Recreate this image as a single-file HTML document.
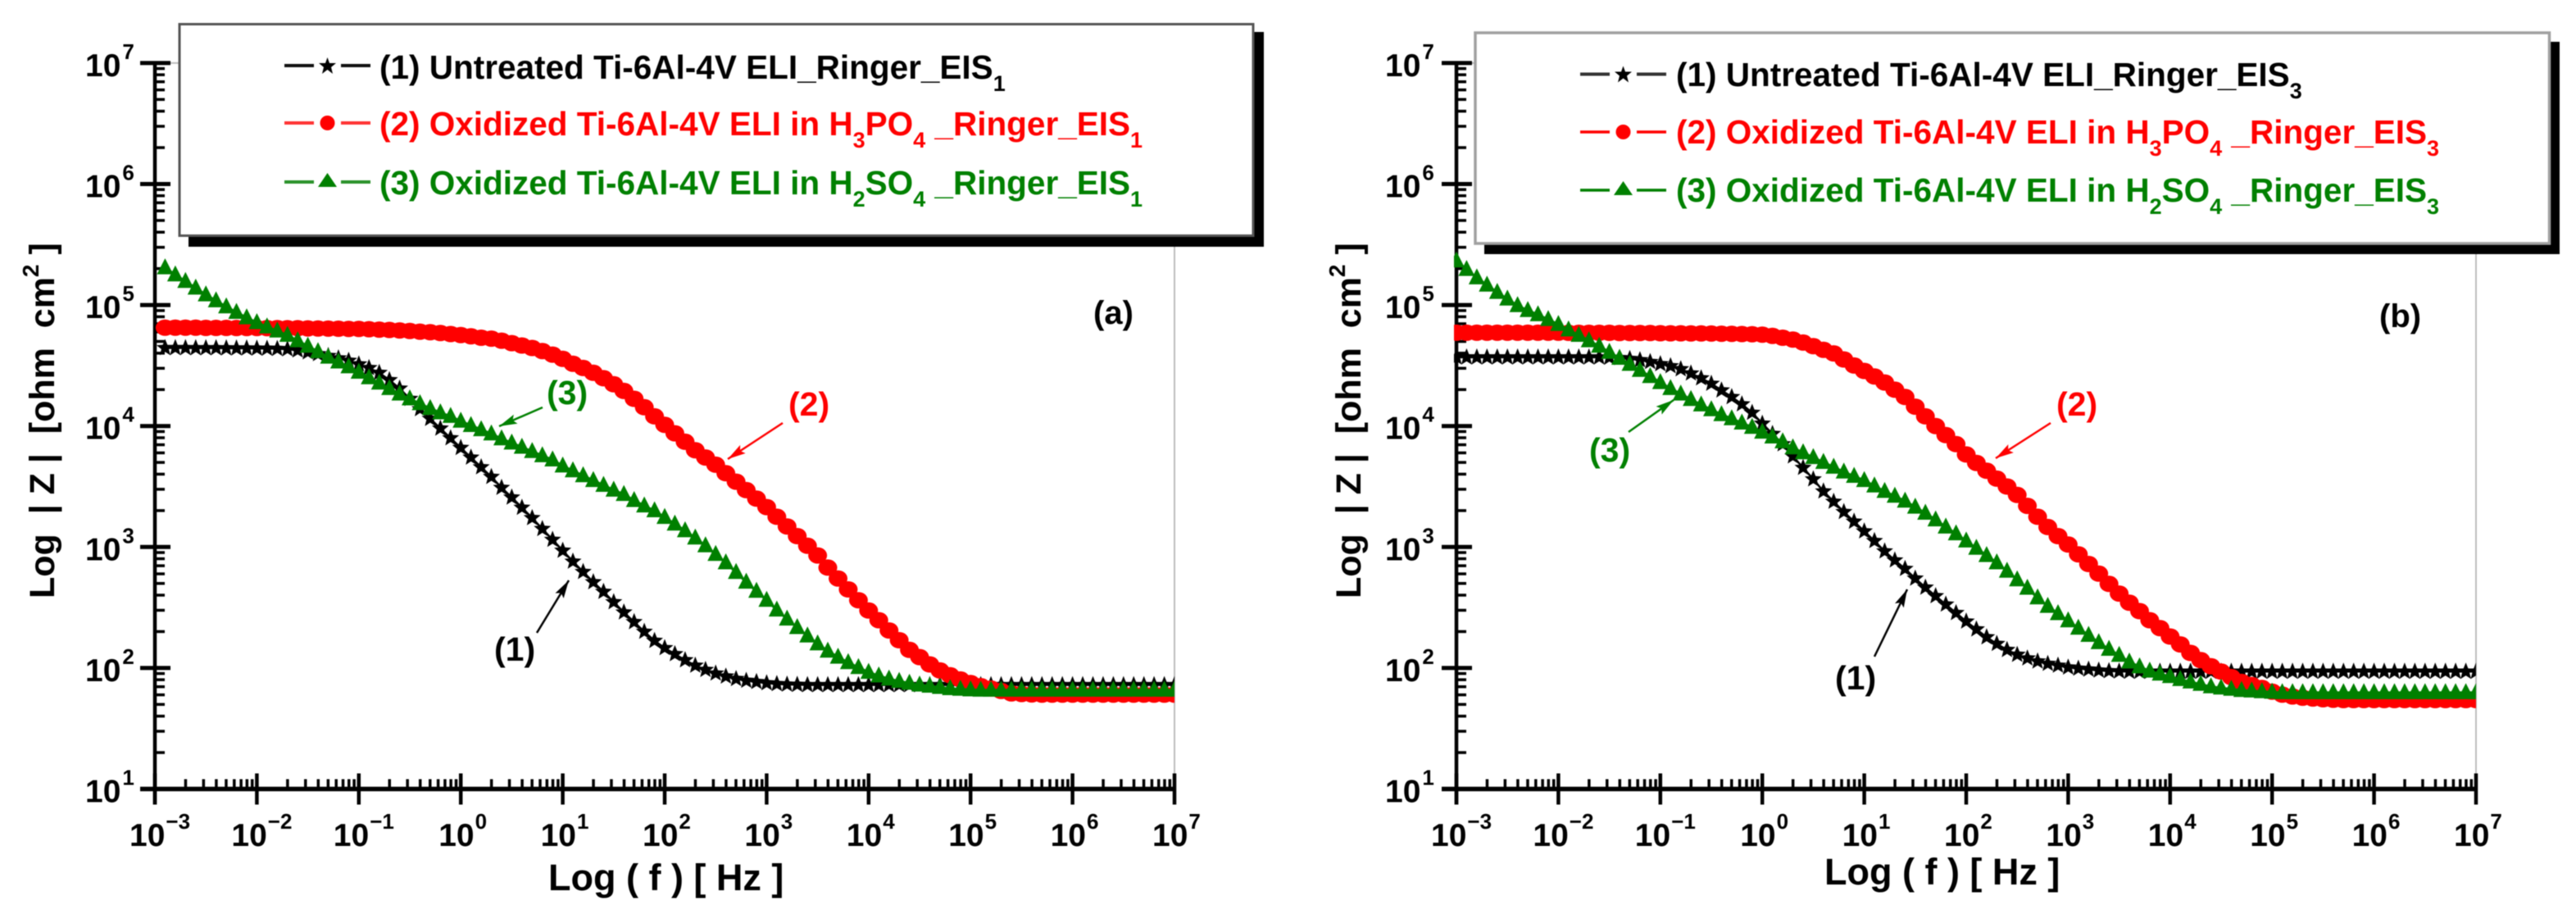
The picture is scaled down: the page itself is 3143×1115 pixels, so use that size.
<!DOCTYPE html>
<html lang="en">
<head>
<meta charset="utf-8">
<title>Bode impedance plots</title>
<style>
html,body{margin:0;padding:0;background:#fff;width:3143px;height:1115px;overflow:hidden}
svg{display:block;filter:blur(.6px)}
text{font-family:"Liberation Sans",sans-serif;font-weight:bold}
</style>
</head>
<body>
<svg id="fig" xmlns="http://www.w3.org/2000/svg" width="3143" height="1115" viewBox="0 0 3143 1115">
  <defs>
    <clipPath id="clip-a"><rect x="186" y="60" width="1247" height="905"/></clipPath>
    <clipPath id="clip-b"><rect x="1774" y="60" width="1247" height="905"/></clipPath>
    <marker id="head-k" markerUnits="userSpaceOnUse" markerWidth="24" markerHeight="14" refX="22" refY="6" orient="auto"><path d="M0 0L22 6L0 12L4 6Z" fill="#000"/></marker>
    <marker id="head-r" markerUnits="userSpaceOnUse" markerWidth="24" markerHeight="14" refX="22" refY="6" orient="auto"><path d="M0 0L22 6L0 12L4 6Z" fill="#f00"/></marker>
    <marker id="head-g" markerUnits="userSpaceOnUse" markerWidth="24" markerHeight="14" refX="22" refY="6" orient="auto"><path d="M0 0L22 6L0 12L4 6Z" fill="#008000"/></marker>
  </defs>

  <g id="panel-a"></g>
  <g id="panel-b"></g>

  <!-- panel a static furniture -->
  <g>
    <text x="1334" y="395" font-size="40" fill="#000">(a)</text>
    <text x="667" y="493" font-size="41" fill="#008000">(3)</text>
    <line x1="662" y1="497" x2="609" y2="520" stroke="#008000" stroke-width="2.5" marker-end="url(#head-g)"/>
    <text x="962" y="507" font-size="41" fill="#f00">(2)</text>
    <line x1="955" y1="516" x2="888" y2="560" stroke="#f00" stroke-width="2.5" marker-end="url(#head-r)"/>
    <text x="603" y="806" font-size="41" fill="#000">(1)</text>
    <line x1="655" y1="772" x2="694" y2="708" stroke="#000" stroke-width="2.5" marker-end="url(#head-k)"/>
    <text transform="translate(66,730) rotate(-90)" font-size="43" fill="#000" xml:space="preserve">Log  | Z |  [ohm  cm<tspan font-size="28" dy="-19">2</tspan><tspan dy="19"> ]</tspan></text>
    <text x="669" y="1086" font-size="45" fill="#000" xml:space="preserve">Log ( f ) [ Hz ]</text>
  </g>
  <g>
    <rect x="230" y="39" width="1312" height="262" fill="#000"/>
    <rect x="219" y="29.5" width="1310" height="258" fill="#fff" stroke="#555" stroke-width="3"/>
    <g>
      <path d="M347 80H383M416 80H452" stroke="#111" stroke-width="4" fill="none"/>
      <polygon points="399.5,70 402,77 410,77 404,82 406,90 399.5,85 393,90 395,82 389,77 397,77" fill="#000"/>
      <text x="463" y="96" font-size="40.5" fill="#000">(1) Untreated Ti-6Al-4V ELI_Ringer_EIS<tspan font-size="27" dy="15">1</tspan></text>
    </g>
    <g>
      <path d="M347 150H383M416 150H452" stroke="#f33" stroke-width="4" fill="none"/>
      <circle cx="399.5" cy="150" r="9" fill="#f00"/>
      <text x="463" y="165" font-size="40.5" fill="#f00">(2) Oxidized Ti-6Al-4V ELI in H<tspan font-size="27" dy="15">3</tspan><tspan dy="-15">PO</tspan><tspan font-size="27" dy="15">4</tspan><tspan dy="-15" xml:space="preserve"> _Ringer_EIS</tspan><tspan font-size="27" dy="15">1</tspan></text>
    </g>
    <g>
      <path d="M347 222H383M416 222H452" stroke="#2a922a" stroke-width="4" fill="none"/>
      <polygon points="399.5,211 411,228 388,228" fill="#008000"/>
      <text x="463" y="237" font-size="40.5" fill="#008000">(3) Oxidized Ti-6Al-4V ELI in H<tspan font-size="27" dy="15">2</tspan><tspan dy="-15">SO</tspan><tspan font-size="27" dy="15">4</tspan><tspan dy="-15" xml:space="preserve"> _Ringer_EIS</tspan><tspan font-size="27" dy="15">1</tspan></text>
    </g>
  </g>

  <!-- panel b static furniture -->
  <g>
    <text x="2903" y="399" font-size="40" fill="#000">(b)</text>
    <text x="1939" y="563" font-size="41" fill="#008000">(3)</text>
    <line x1="1987" y1="527" x2="2042" y2="488" stroke="#008000" stroke-width="2.5" marker-end="url(#head-g)"/>
    <text x="2509" y="507" font-size="41" fill="#f00">(2)</text>
    <line x1="2502" y1="516" x2="2435" y2="559" stroke="#f00" stroke-width="2.5" marker-end="url(#head-r)"/>
    <text x="2239" y="841" font-size="41" fill="#000">(1)</text>
    <line x1="2287" y1="801" x2="2327" y2="719" stroke="#000" stroke-width="2.5" marker-end="url(#head-k)"/>
    <text transform="translate(1660,730) rotate(-90)" font-size="43" fill="#000" xml:space="preserve">Log  | Z |  [ohm  cm<tspan font-size="28" dy="-19">2</tspan><tspan dy="19"> ]</tspan></text>
    <text x="2226" y="1079" font-size="45" fill="#000" xml:space="preserve">Log ( f ) [ Hz ]</text>
  </g>
  <g>
    <rect x="1811" y="51" width="1312" height="259" fill="#000"/>
    <rect x="1800" y="40" width="1310.5" height="257" fill="#fff" stroke="#a0a0a0" stroke-width="3.5"/>
    <g>
      <path d="M1928 90.5H1964M1997 90.5H2033" stroke="#333" stroke-width="4" fill="none"/>
      <polygon points="1980.5,80.5 1983,87.5 1991,87.5 1985,92.5 1987,100.5 1980.5,95.5 1974,100.5 1976,92.5 1970,87.5 1978,87.5" fill="#000"/>
      <text x="2045" y="105" font-size="40.5" fill="#000">(1) Untreated Ti-6Al-4V ELI_Ringer_EIS<tspan font-size="27" dy="15">3</tspan></text>
    </g>
    <g>
      <path d="M1928 161H1964M1997 161H2033" stroke="#f00" stroke-width="3.5" fill="none"/>
      <circle cx="1980.5" cy="161" r="9" fill="#f00"/>
      <text x="2045" y="175" font-size="40.5" fill="#f00">(2) Oxidized Ti-6Al-4V ELI in H<tspan font-size="27" dy="15">3</tspan><tspan dy="-15">PO</tspan><tspan font-size="27" dy="15">4</tspan><tspan dy="-15" xml:space="preserve"> _Ringer_EIS</tspan><tspan font-size="27" dy="15">3</tspan></text>
    </g>
    <g>
      <path d="M1928 232H1964M1997 232H2033" stroke="#008000" stroke-width="3.5" fill="none"/>
      <polygon points="1980.5,221 1992,238 1969,238" fill="#008000"/>
      <text x="2045" y="246" font-size="40.5" fill="#008000">(3) Oxidized Ti-6Al-4V ELI in H<tspan font-size="27" dy="15">2</tspan><tspan dy="-15">SO</tspan><tspan font-size="27" dy="15">4</tspan><tspan dy="-15" xml:space="preserve"> _Ringer_EIS</tspan><tspan font-size="27" dy="15">3</tspan></text>
    </g>
  </g>
</svg>

<script>
// log10(frequency in Hz)
var logFreqA = [
-2.9,-2.8,-2.7,-2.6,-2.5,-2.4,-2.3,-2.2,-2.1,-2.0,
-1.9,-1.8,-1.7,-1.6,-1.5,-1.4,-1.3,-1.2,-1.1,-1.0,
-0.9,-0.8,-0.7,-0.6,-0.5,-0.4,-0.3,-0.2,-0.1,0.0,
0.1,0.2,0.3,0.4,0.5,0.6,0.7,0.8,0.9,1.0,
1.1,1.2,1.3,1.4,1.5,1.6,1.7,1.8,1.9,2.0,
2.1,2.2,2.3,2.4,2.5,2.6,2.7,2.8,2.9,3.0,
3.1,3.2,3.3,3.4,3.5,3.6,3.7,3.8,3.9,4.0,
4.1,4.2,4.3,4.4,4.5,4.6,4.7,4.8,4.9,5.0,
5.1,5.2,5.3,5.4,5.5,5.6,5.7,5.8,5.9,6.0,
6.1,6.2,6.3,6.4,6.5,6.6,6.7,6.8,6.9,7.0];
var logFreqB = [-3.0,
-2.9,-2.8,-2.7,-2.6,-2.5,-2.4,-2.3,-2.2,-2.1,-2.0,
-1.9,-1.8,-1.7,-1.6,-1.5,-1.4,-1.3,-1.2,-1.1,-1.0,
-0.9,-0.8,-0.7,-0.6,-0.5,-0.4,-0.3,-0.2,-0.1,0.0,
0.1,0.2,0.3,0.4,0.5,0.6,0.7,0.8,0.9,1.0,
1.1,1.2,1.3,1.4,1.5,1.6,1.7,1.8,1.9,2.0,
2.1,2.2,2.3,2.4,2.5,2.6,2.7,2.8,2.9,3.0,
3.1,3.2,3.3,3.4,3.5,3.6,3.7,3.8,3.9,4.0,
4.1,4.2,4.3,4.4,4.5,4.6,4.7,4.8,4.9,5.0,
5.1,5.2,5.3,5.4,5.5,5.6,5.7,5.8,5.9,6.0,
6.1,6.2,6.3,6.4,6.5,6.6,6.7,6.8,6.9,7.0];

// log10(|Z|), panel (a)
var untreatedA = [
4.645,4.645,4.645,4.644,4.644,4.644,4.643,4.642,4.642,4.641,
4.640,4.638,4.635,4.625,4.610,4.595,4.580,4.560,4.540,4.510,
4.480,4.440,4.380,4.310,4.225,4.140,4.060,3.980,3.900,3.820,
3.740,3.660,3.580,3.490,3.410,3.325,3.240,3.150,3.060,2.970,
2.880,2.795,2.710,2.630,2.545,2.460,2.380,2.300,2.225,2.165,
2.115,2.065,2.020,1.985,1.955,1.930,1.910,1.895,1.885,1.875,
1.868,1.864,1.862,1.860,1.860,1.860,1.860,1.860,1.860,1.860,
1.860,1.860,1.860,1.860,1.860,1.860,1.860,1.860,1.860,1.860,
1.860,1.860,1.860,1.860,1.860,1.860,1.860,1.860,1.860,1.860,
1.860,1.860,1.860,1.860,1.860,1.860,1.860,1.860,1.860,1.860];
var phosphoricA = [
4.812,4.812,4.812,4.812,4.811,4.811,4.811,4.810,4.810,4.810,
4.809,4.809,4.808,4.808,4.807,4.806,4.805,4.804,4.803,4.802,
4.800,4.797,4.794,4.790,4.785,4.780,4.775,4.768,4.760,4.752,
4.742,4.730,4.722,4.705,4.685,4.665,4.645,4.620,4.590,4.555,
4.515,4.480,4.440,4.395,4.345,4.290,4.225,4.155,4.080,4.010,
3.940,3.870,3.800,3.740,3.680,3.610,3.540,3.470,3.400,3.330,
3.250,3.170,3.090,3.010,2.930,2.830,2.740,2.650,2.560,2.475,
2.395,2.310,2.230,2.150,2.090,2.030,1.980,1.940,1.905,1.876,
1.850,1.830,1.810,1.790,1.785,1.782,1.780,1.780,1.780,1.780,
1.780,1.780,1.780,1.780,1.780,1.780,1.780,1.780,1.780,1.780];
var sulfuricA = [
5.308,5.250,5.195,5.140,5.085,5.035,4.985,4.940,4.895,4.855,
4.820,4.785,4.750,4.705,4.660,4.615,4.570,4.530,4.490,4.445,
4.400,4.355,4.310,4.265,4.225,4.185,4.145,4.110,4.080,4.040,
4.005,3.970,3.935,3.895,3.860,3.825,3.790,3.755,3.720,3.670,
3.630,3.590,3.550,3.510,3.470,3.435,3.385,3.340,3.300,3.245,
3.190,3.135,3.075,3.010,2.940,2.870,2.790,2.710,2.635,2.560,
2.480,2.405,2.335,2.265,2.200,2.140,2.090,2.045,2.005,1.965,
1.935,1.910,1.890,1.875,1.860,1.850,1.840,1.830,1.825,1.820,
1.817,1.817,1.817,1.817,1.817,1.817,1.817,1.817,1.817,1.817,
1.817,1.817,1.817,1.817,1.817,1.817,1.817,1.817,1.817,1.817];

// log10(|Z|), panel (b)
var untreatedB = [4.568,
4.568,4.568,4.568,4.568,4.568,4.568,4.568,4.568,4.568,4.568,
4.568,4.568,4.568,4.568,4.566,4.562,4.555,4.545,4.530,4.512,
4.495,4.470,4.435,4.395,4.350,4.295,4.240,4.180,4.110,4.020,
3.935,3.850,3.750,3.655,3.560,3.460,3.375,3.290,3.210,3.130,
3.050,2.965,2.890,2.820,2.740,2.665,2.595,2.525,2.455,2.385,
2.320,2.255,2.200,2.150,2.110,2.080,2.055,2.035,2.020,2.005,
1.995,1.988,1.980,1.975,1.972,1.970,1.970,1.970,1.970,1.970,
1.970,1.970,1.970,1.970,1.970,1.970,1.970,1.970,1.970,1.970,
1.970,1.970,1.970,1.970,1.970,1.970,1.970,1.970,1.970,1.970,
1.970,1.970,1.970,1.970,1.970,1.970,1.970,1.970,1.970,1.970];
var phosphoricB = [4.771,
4.771,4.771,4.771,4.771,4.771,4.771,4.771,4.771,4.771,4.771,
4.770,4.770,4.770,4.770,4.770,4.769,4.769,4.768,4.768,4.767,
4.766,4.766,4.765,4.765,4.764,4.763,4.762,4.760,4.758,4.755,
4.745,4.730,4.715,4.690,4.660,4.630,4.600,4.550,4.500,4.455,
4.410,4.360,4.300,4.240,4.160,4.080,4.000,3.925,3.850,3.765,
3.695,3.630,3.565,3.500,3.430,3.340,3.250,3.165,3.090,3.020,
2.940,2.860,2.780,2.695,2.615,2.540,2.470,2.395,2.330,2.260,
2.195,2.125,2.065,2.015,1.970,1.925,1.885,1.860,1.835,1.805,
1.780,1.765,1.755,1.748,1.742,1.738,1.735,1.735,1.735,1.735,
1.735,1.735,1.735,1.735,1.735,1.735,1.735,1.735,1.735,1.735];
var sulfuricB = [5.365,
5.295,5.225,5.165,5.105,5.050,4.995,4.955,4.920,4.880,4.840,
4.795,4.750,4.705,4.660,4.610,4.560,4.510,4.460,4.410,4.360,
4.310,4.265,4.220,4.175,4.135,4.095,4.060,4.025,3.990,3.950,
3.910,3.870,3.820,3.780,3.740,3.700,3.660,3.620,3.585,3.550,
3.505,3.460,3.420,3.380,3.330,3.280,3.225,3.165,3.110,3.050,
2.990,2.930,2.870,2.800,2.730,2.660,2.580,2.510,2.450,2.390,
2.330,2.270,2.210,2.155,2.105,2.050,2.010,1.975,1.950,1.930,
1.905,1.885,1.865,1.845,1.835,1.825,1.815,1.810,1.805,1.800,
1.797,1.797,1.797,1.797,1.797,1.797,1.797,1.797,1.797,1.797,
1.797,1.797,1.797,1.797,1.797,1.797,1.797,1.797,1.797,1.797];

// axis tick exponents (labels are 10^n)
var yTickExponents = [1,2,3,4,5,6,7];
var xTickExponents = [-3,-2,-1,0,1,2,3,4,5,6,7];
var minorMultipliers = [2,3,4,5,6,7,8,9];

var NS = 'http://www.w3.org/2000/svg';
var DECADE_X = 124.4, DECADE_Y = 147.6, Y_BOTTOM = 962.5;

function make(tag, parent, props) {
  var n = document.createElementNS(NS, tag);
  for (var k in props) n.setAttribute(k, props[k]);
  parent.appendChild(n);
  return n;
}
function yScale(exp) { return Y_BOTTOM - (exp - 1) * DECADE_Y; }
function xScaleFor(x0) { return function (exp) { return x0 + (exp + 3) * DECADE_X; }; }

function drawAxes(g, x0, yLabelDx) {
  var xs = xScaleFor(x0);
  var xEnd = xs(7);
  var frame = make('path', g, {d: 'M' + x0 + ' ' + yScale(7) + 'H' + xEnd + 'V' + Y_BOTTOM, fill: 'none', stroke: '#bdbdbd', 'stroke-width': 2});
  
  
  var yAxis = make('line', g, {x1: x0, x2: x0, y1: yScale(7), y2: Y_BOTTOM + 19, stroke: '#000', 'stroke-width': 4.5});
  
  
  var xAxis = make('line', g, {x1: x0 - 18, x2: xEnd + 2, y1: Y_BOTTOM, y2: Y_BOTTOM, stroke: '#000', 'stroke-width': 5.5});
  
  

  yTickExponents.forEach(function (e) {
    var y = yScale(e);
    var t = make('line', g, {x1: x0 - 18, x2: x0 + 19, y1: y, y2: y, stroke: '#000', 'stroke-width': 5});
    
    
    var lab = make('text', g, {x: x0 - yLabelDx, y: y + 16, 'font-size': 39, fill: '#000'});
    
    
    lab.textContent = '10';
    var sup = make('tspan', lab, {'font-size': 26, dx: 2, dy: -21});
    sup.textContent = String(e);
    if (e < 7) minorMultipliers.forEach(function (m) {
      var my = yScale(e + Math.log10(m));
      var mt = make('line', g, {x1: x0, x2: x0 + 12, y1: my, y2: my, stroke: '#000', 'stroke-width': 3.5});
      
      
    });
  });

  xTickExponents.forEach(function (e) {
    var x = xs(e);
    var t = make('line', g, {x1: x, x2: x, y1: Y_BOTTOM - 19, y2: Y_BOTTOM + 19, stroke: '#000', 'stroke-width': 4.5});
    
    
    var lab = make('text', g, {x: x - (e < 0 ? 31 : 27), y: 1032, 'font-size': 39, fill: '#000'});
    
    
    lab.textContent = '10';
    var sup = make('tspan', lab, {'font-size': 26, dx: 1, dy: -21});
    sup.textContent = e < 0 ? '\u2212' + Math.abs(e) : String(e);
    if (e < 7) minorMultipliers.forEach(function (m) {
      var mx = xs(e + Math.log10(m));
      var mt = make('line', g, {x1: mx, x2: mx, y1: Y_BOTTOM - 12, y2: Y_BOTTOM, stroke: '#000', 'stroke-width': 3.5});
      
      
    });
  });
}

function starPoints(x, y) {
  var pts = [];
  for (var i = 0; i < 10; i++) {
    var r = i % 2 ? 4.8 : 11;
    var a = -Math.PI / 2 + i * Math.PI / 5;
    pts.push((x + r * Math.cos(a)).toFixed(1) + ',' + (y + r * Math.sin(a)).toFixed(1));
  }
  return pts.join(' ');
}

function drawSeries(g, x0, freq, values, color, lineWidth, shape, seriesName) {
  var xs = xScaleFor(x0);
  var s = make('g', g, {});
  
  
  var d = values.map(function (v, i) { return (i ? 'L' : 'M') + xs(freq[i]).toFixed(1) + ' ' + yScale(v).toFixed(1); }).join('');
  var line = make('path', s, {d: d, fill: 'none', stroke: color, 'stroke-width': lineWidth});
  
  
  values.forEach(function (v, i) {
    var x = xs(freq[i]), y = yScale(v), m;
    if (shape === 'star') {
      m = make('polygon', s, {points: starPoints(x, y), fill: color});
    } else if (shape === 'circle') {
      m = make('ellipse', s, {cx: x.toFixed(1), cy: y.toFixed(1), rx: 11.5, ry: 10, fill: color});
    } else {
      m = make('polygon', s, {points: x.toFixed(1) + ',' + (y - 11.5).toFixed(1) + ' ' + (x - 10).toFixed(1) + ',' + (y + 8).toFixed(1) + ' ' + (x + 10).toFixed(1) + ',' + (y + 8).toFixed(1), fill: color});
    }
    
    
  });
}

function drawPanel(id, clipId, x0, yLabelDx, freq, black, red, green) {
  var g = document.getElementById(id);
  drawAxes(g, x0, yLabelDx);
  var plot = make('g', g, {'clip-path': 'url(#' + clipId + ')'});
  
  
  drawSeries(plot, x0, freq, black, '#000', 2.5, 'star', 'series-untreated');
  drawSeries(plot, x0, freq, red, '#f00', 3, 'circle', 'series-h3po4');
  drawSeries(plot, x0, freq, green, '#008000', 3, 'triangle', 'series-h2so4');
}

drawPanel('panel-a', 'clip-a', 189, 85, logFreqA, untreatedA, phosphoricA, sulfuricA);
drawPanel('panel-b', 'clip-b', 1777, 87, logFreqB, untreatedB, phosphoricB, sulfuricB);
</script>
</body>
</html>
